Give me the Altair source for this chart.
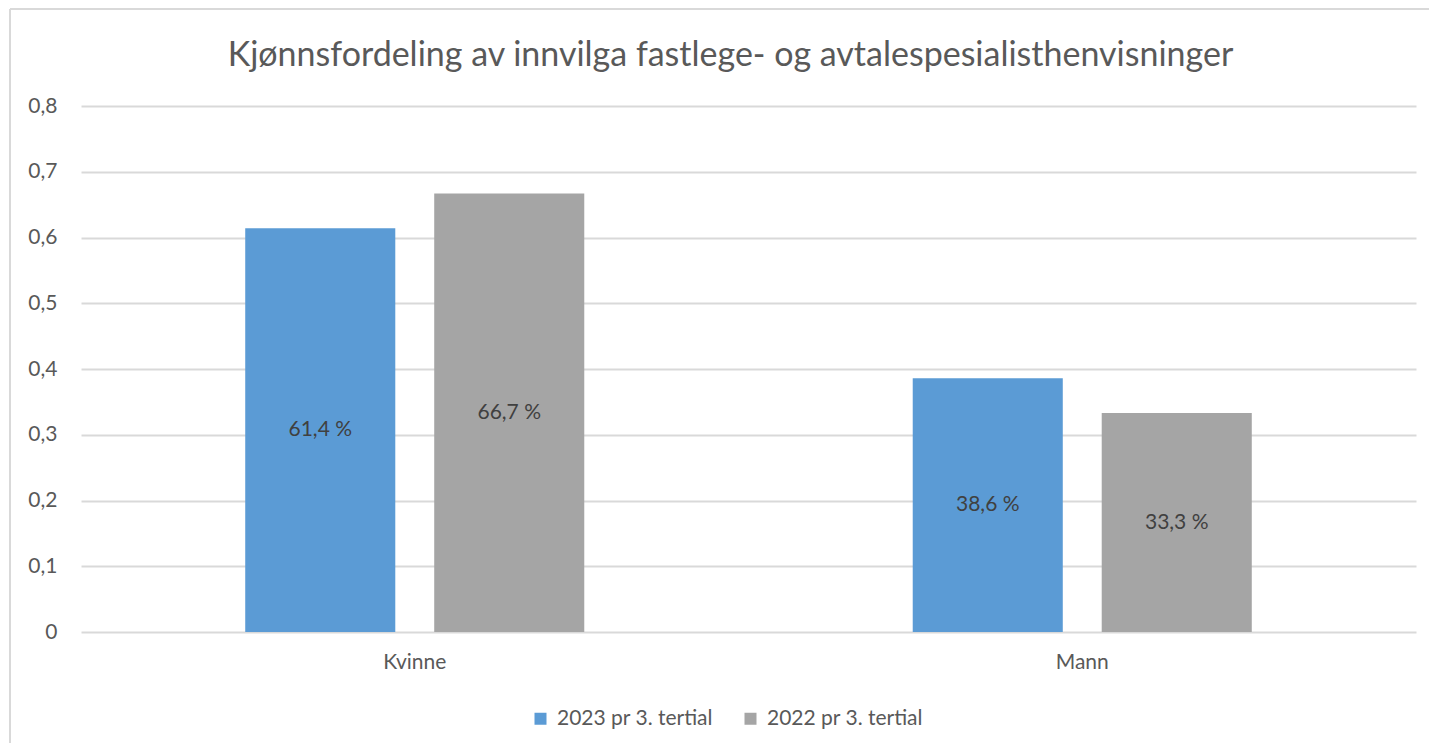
import altair as alt
import pandas as pd

categories = ["Kvinne", "Mann"]
series = ["2023 pr 3. tertial", "2022 pr 3. tertial"]
values_2023 = [0.614, 0.386]
values_2022 = [0.667, 0.333]
y_ticks = [0, 0.1, 0.2, 0.3, 0.4, 0.5, 0.6, 0.7, 0.8]
colors = ["#5B9BD5", "#A5A5A5"]

rows = []
for cat, v23, v22 in zip(categories, values_2023, values_2022):
    rows.append({"kjonn": cat, "serie": series[0], "andel": v23})
    rows.append({"kjonn": cat, "serie": series[1], "andel": v22})
df = pd.DataFrame(rows)

FONT = "Lato"
FS = 21
PW, PH = 1335, 526

x_enc = alt.X("kjonn:N", sort=categories, title=None,
              scale=alt.Scale(paddingInner=0, paddingOuter=0),
              axis=alt.Axis(domain=False, ticks=False, tickSize=0, labelAngle=0,
                            labelFontSize=FS, labelColor="#595959", labelFont=FONT,
                            labelPadding=19, grid=False))
xoff = alt.XOffset("serie:N", sort=series,
                   scale=alt.Scale(paddingInner=0.206, paddingOuter=0.869))

base = alt.Chart(df)

bars = base.mark_bar().encode(
    x=x_enc,
    xOffset=xoff,
    y=alt.Y("andel:Q", title=None,
            scale=alt.Scale(domain=[0, 0.8], nice=False),
            axis=alt.Axis(values=y_ticks, domain=False, ticks=False, tickSize=0,
                          labelFontSize=FS, labelColor="#595959", labelFont=FONT,
                          labelPadding=24, gridColor="#D9D9D9", gridWidth=2,
                          labelExpr="datum.value == 0 ? '0' : replace(format(datum.value, '.1f'), '.', ',')")),
    color=alt.Color("serie:N", sort=series,
                    scale=alt.Scale(domain=series, range=colors),
                    legend=alt.Legend(title=None, orient="none", direction="horizontal",
                                      legendX=449, legendY=602, padding=0,
                                      symbolType="square", symbolSize=144,
                                      symbolStrokeWidth=0, labelFontSize=FS,
                                      labelFont=FONT, labelColor="#595959",
                                      labelOffset=6, columnPadding=27)),
)

labels = base.transform_calculate(
    mid="datum.andel / 2",
    txt="replace(format(datum.andel * 100, '.1f'), '.', ',') + ' %'",
).mark_text(fontSize=FS, font=FONT, color="#404040", baseline="middle").encode(
    x=alt.X("kjonn:N", sort=categories),
    xOffset=alt.XOffset("serie:N", sort=series),
    y=alt.Y("mid:Q"),
    text="txt:N",
)

border_left = alt.Chart(pd.DataFrame({"a": [0]})).mark_rule(color="#D9D9D9", strokeWidth=2).encode(
    x=alt.value(-71), y=alt.value(-97), y2=alt.value(PH + 111)
)
border_top = alt.Chart(pd.DataFrame({"a": [0]})).mark_rule(color="#D9D9D9", strokeWidth=2).encode(
    x=alt.value(-71), x2=alt.value(PW + 13), y=alt.value(-97)
)

chart = alt.layer(border_left, border_top, bars, labels).properties(
    width=PW, height=PH,
    title=alt.TitleParams("Kjønnsfordeling av innvilga fastlege- og avtalespesialisthenvisninger",
                          fontSize=34, font=FONT, fontWeight="normal", color="#595959",
                          anchor="middle", offset=0, dy=92, dx=-18, baseline="alphabetic"),
    autosize=alt.AutoSizeParams(type="none"),
    padding={"left": 73, "top": 98, "right": 13, "bottom": 111},
).configure_view(stroke=None)

chart.save("out.html", embed_options={"renderer": "svg", "actions": False})
